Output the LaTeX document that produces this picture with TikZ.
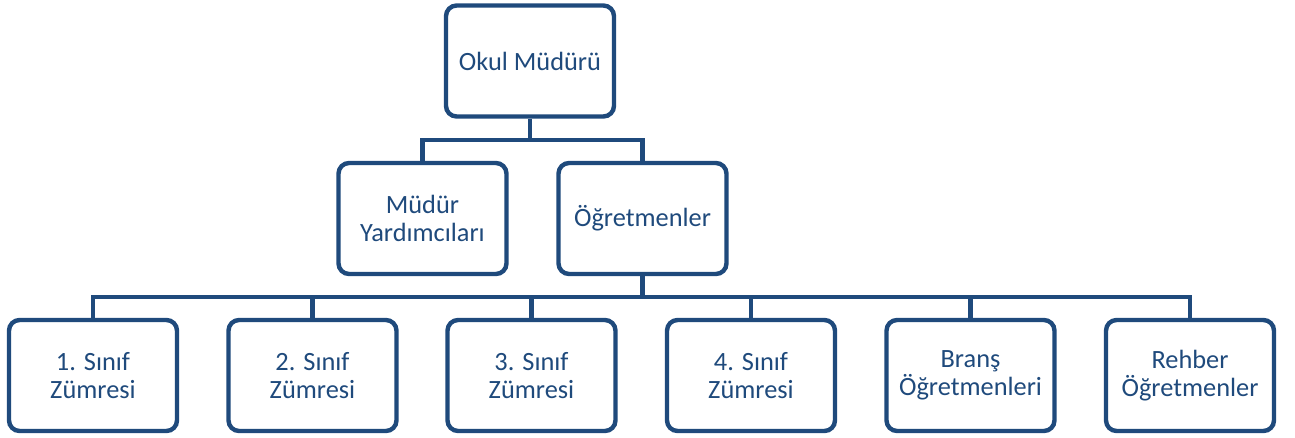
\documentclass[tikz,border=0pt]{standalone}
\usepackage{fontspec}
\setmainfont{Carlito}
\definecolor{orgblue}{HTML}{1F4A7C}

\tikzset{
  unit/.style={draw=orgblue, line width=2.5pt, rounded corners=6pt, fill=white,
    minimum width=3.36cm, minimum height=2.22cm, align=center, text=orgblue,
    font=\fontsize{15}{16}\selectfont},
  link/.style={draw=orgblue, line width=2.5pt}
}

\begin{document}
\begin{tikzpicture}[x=0.02cm,y=-0.02cm]
\useasboundingbox (0,0) rectangle (1295,437);
% top levels
\draw (530,61) node[unit] (okul) {Okul Müdürü};
\draw (422.5,218.5) node[unit] (myard) {Müdür\\Yardımcıları};
\draw (642.5,218.5) node[unit] (ogrt) {Öğretmenler};
% zumreler
\draw (93,375.5) node[unit] (z1) {1. Sınıf\\Zümresi};
\draw (312.5,375.5) node[unit] (z2) {2. Sınıf\\Zümresi};
\draw (531.5,375.5) node[unit] (z3) {3. Sınıf\\Zümresi};
\draw (751,375.5) node[unit] (z4) {4. Sınıf\\Zümresi};
\draw (970.5,375.5) node[unit] (z5) {Branş\\Öğretmenleri};
\draw (1190,375.5) node[unit] (z6) {Rehber\\Öğretmenler};
% connectors
\coordinate (b1) at (530,140);
\coordinate (b2) at (642.5,297);
\draw[link] (okul.south) -- (b1);
\draw[link] (b1) -| (myard.north);
\draw[link] (b1) -| (ogrt.north);
\draw[link] (ogrt.south) -- (b2);
\foreach \i in {1,...,6}
  \draw[link] (b2) -| (z\i.north);
\end{tikzpicture}
\end{document}
